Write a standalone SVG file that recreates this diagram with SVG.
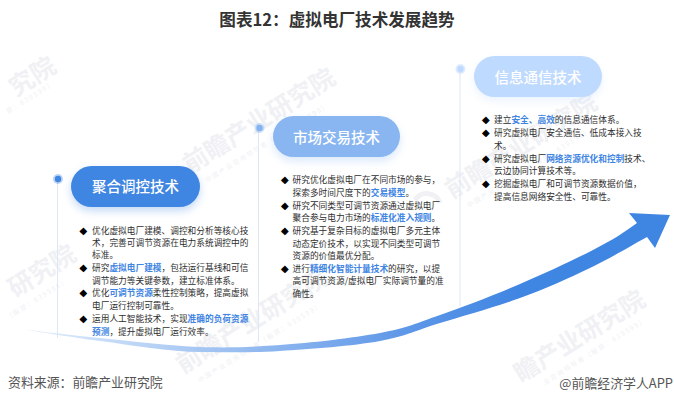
<svg xmlns="http://www.w3.org/2000/svg" width="674" height="403" viewBox="0 0 674 403">
<style>
text{font-family:"Noto Sans CJK SC","Noto Sans",sans-serif}
.b{font-size:8.7px;fill:#2e2e2e}
.h{fill:#3f85e2;font-weight:700}
.d{font-size:10px;fill:#000;font-family:"DejaVu Sans",sans-serif}
.p{font-size:14.500px;font-weight:500;fill:#fff;text-anchor:middle}
.w{font-size:24.800px;font-weight:700;fill:#f0f1f4}
.s{font-size:6.500px;fill:#f0f1f4;letter-spacing:1.600px}
.v{stroke:#dde7f7;stroke-width:1;fill:none}
.l{fill:none;stroke:#f0f1f4;stroke-width:5}
</style>
<defs>
<linearGradient id="g" gradientUnits="userSpaceOnUse" x1="14" y1="330" x2="520" y2="290">
<stop offset="0" stop-color="#e6f0fc"/><stop offset=".2" stop-color="#c4daf7"/><stop offset=".4" stop-color="#9fc2f2"/><stop offset=".75" stop-color="#6199e8"/><stop offset="1" stop-color="#3f85e2"/>
</linearGradient>
<filter id="sh" x="-20%" y="-40%" width="140%" height="190%"><feGaussianBlur stdDeviation="4"/></filter>
</defs>
<rect width="674" height="403" fill="#fff"/>
<g id="watermarks">
<text class="w" transform="translate(16,97) rotate(-32)">究院</text>
<text class="s" transform="translate(8,114) rotate(-32)">票：839599）</text>
<text class="w" transform="translate(190,174) rotate(-32)">前瞻产业研究院</text>
<text class="s" transform="translate(207,183) rotate(-32)">中国产业咨询领导者（股票：839599）</text>
<path class="l" d="M178 178A14 14 0 0 1 156 186"/>
<text class="w" transform="translate(452,199) rotate(-32)">前瞻产业研究院</text>
<text class="s" transform="translate(469,208) rotate(-32)">中国产业咨询领导者（股票：839599）</text>
<path class="l" d="M440 203A14 14 0 0 0 415 200"/>
<text class="w" transform="translate(183,374) rotate(-32)">前瞻产业研究院</text>
<text class="s" transform="translate(200,383) rotate(-32)">中国产业咨询领导者（股票：839599）</text>
<text class="w" transform="translate(521,383) rotate(-32)">瞻产业研究院</text>
<text class="s" transform="translate(545,385) rotate(-32)">业咨询领导者（股票：839599）</text>
<text class="w" transform="translate(15,298) rotate(-32)">研究院</text>
<text class="s" transform="translate(8,320) rotate(-32)">（股票：839599）</text>
</g>
<text id="title" x="337" y="26" text-anchor="middle" font-size="16.600" font-weight="700" fill="#333">图表12：虚拟电厂技术发展趋势</text>
<g id="connectors">
<line class="v" x1="57.500" y1="179" x2="57.500" y2="338"/>
<line class="v" x1="258.500" y1="128" x2="258.500" y2="342"/>
<line class="v" x1="460" y1="69" x2="460" y2="306"/>
<path id="trend-arrow" fill="url(#g)" d="M14 328C28 330 69 335 100 338C131 341 170 346 200 347C230 348 250 347 280 345C310 343 353 338 380 333C407 328 417 323 440 315C463 307 494.500 295 520 284C545.500 273 573.500 260 593 250C612.500 240 625 232 637 223L629 213L670 215L655 248L647 237C637.500 242 611 258 590 268C569 278 545 289 520 298C495 307 463 316 440 323C417 330 407 336 380 341C353 346 310 349 280 351C250 353 230 352 200 352C170 352 131 345 100 341C69 337 28 330 14 328Z"/>
</g>
<g id="node-1">
<circle cx="58" cy="179" r="5" fill="#3f85e2" opacity=".35"/><circle cx="58" cy="179" r="3.200" fill="#3f85e2"/>
<rect x="71" y="170" width="129" height="41" rx="20.500" fill="#3f85e2" opacity=".3" filter="url(#sh)"/>
<rect x="71" y="166" width="129" height="41" rx="20.500" fill="#3f85e2"/>
<text class="p" x="135.500" y="192">聚合调控技术</text>
<text class="d" x="79.500" y="233.500">◆</text><text class="b" x="92" y="233.500">优化虚拟电厂建模、调控和分析等核心技</text>
<text class="b" x="92" y="246">术，完善可调节资源在电力系统调控中的</text>
<text class="b" x="92" y="258">标准。</text>
<text class="d" x="79.500" y="271">◆</text><text class="b" x="92" y="271">研究<tspan class="h">虚拟电厂建模</tspan>，包括运行基线和可信</text>
<text class="b" x="92" y="283.500">调节能力等关键参数，建立标准体系。</text>
<text class="d" x="79.500" y="296">◆</text><text class="b" x="92" y="296">优化<tspan class="h">可调节资源</tspan>柔性控制策略，提高虚拟</text>
<text class="b" x="92" y="309">电厂运行控制可靠性。</text>
<text class="d" x="79.500" y="321.500">◆</text><text class="b" x="92" y="321.500">运用人工智能技术，实现<tspan class="h">准确的负荷资源</tspan></text>
<text class="b" x="92" y="334.500"><tspan class="h">预测</tspan>，提升虚拟电厂运行效率。</text>
</g>
<g id="node-2">
<circle cx="259.500" cy="128" r="5" fill="#84b3f0" opacity=".4"/><circle cx="259.500" cy="128" r="3.200" fill="#84b3f0"/>
<rect x="273" y="120" width="127" height="41" rx="20.500" fill="#84b3f0" opacity=".3" filter="url(#sh)"/>
<rect x="273" y="116" width="127" height="41" rx="20.500" fill="#89b6f1"/>
<text class="p" x="336.500" y="143">市场交易技术</text>
<text class="d" x="281" y="183">◆</text><text class="b" x="292.500" y="183">研究优化虚拟电厂在不同市场的参与，</text>
<text class="b" x="292.500" y="195.500">探索多时间尺度下的<tspan class="h">交易模型</tspan>。</text>
<text class="d" x="281" y="208.500">◆</text><text class="b" x="292.500" y="208.500">研究不同类型可调节资源通过虚拟电厂</text>
<text class="b" x="292.500" y="221">聚合参与电力市场的<tspan class="h">标准化准入规则</tspan>。</text>
<text class="d" x="281" y="234">◆</text><text class="b" x="292.500" y="234">研究基于复杂目标的虚拟电厂多元主体</text>
<text class="b" x="292.500" y="246.500">动态定价技术，以实现不同类型可调节</text>
<text class="b" x="292.500" y="258.500">资源的价值最优分配。</text>
<text class="d" x="281" y="271.500">◆</text><text class="b" x="292.500" y="271.500">进行<tspan class="h">精细化智能计量技术</tspan>的研究，以提</text>
<text class="b" x="292.500" y="284">高可调节资源/虚拟电厂实际调节量的准</text>
<text class="b" x="292.500" y="296.500">确性。</text>
</g>
<g id="node-3">
<circle cx="460.500" cy="69" r="5" fill="#bfdaff" opacity=".5"/><circle cx="460.500" cy="69" r="3.200" fill="#bfdaff"/>
<rect x="474" y="60" width="128" height="41" rx="20.500" fill="#bfdaff" opacity=".3" filter="url(#sh)"/>
<rect x="474" y="56" width="128" height="41" rx="20.500" fill="#bfdaff"/>
<text class="p" x="538" y="83">信息通信技术</text>
<text class="d" x="482" y="123">◆</text><text class="b" x="494" y="123">建立<tspan class="h">安全、高效</tspan>的信息通信体系。</text>
<text class="d" x="482" y="136">◆</text><text class="b" x="494" y="136">研究虚拟电厂安全通信、低成本接入技</text>
<text class="b" x="494" y="148.500">术。</text>
<text class="d" x="482" y="161.500">◆</text><text class="b" x="494" y="161.500">研究虚拟电厂<tspan class="h">网络资源优化和控制</tspan>技术、</text>
<text class="b" x="494" y="174">云边协同计算技术等。</text>
<text class="d" x="482" y="186.500">◆</text><text class="b" x="494" y="186.500">挖掘虚拟电厂和可调节资源数据价值，</text>
<text class="b" x="494" y="199.500">提高信息网络安全性、可靠性。</text>
</g>
<text id="source" x="8" y="387" font-size="12.900" fill="#555">资料来源：前瞻产业研究院</text>
<text id="credit" x="673" y="388" text-anchor="end" font-size="12.900" fill="#555">@前瞻经济学人APP</text>
</svg>
